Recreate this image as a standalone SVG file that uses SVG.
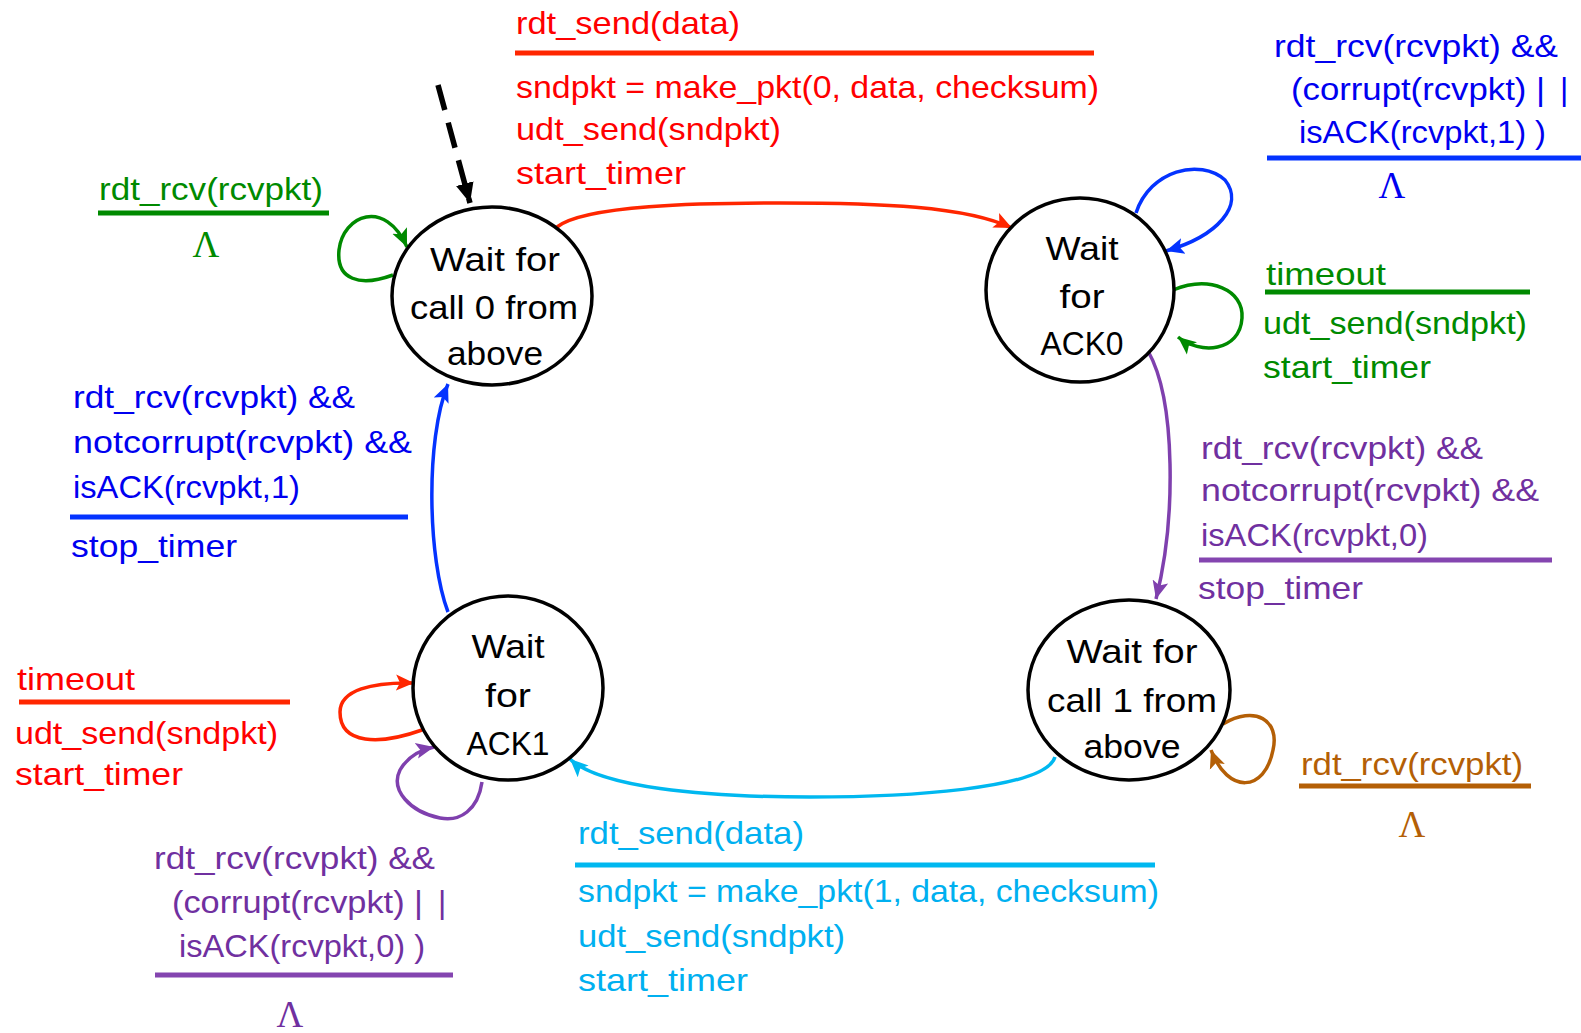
<svg xmlns="http://www.w3.org/2000/svg" width="1581" height="1033" viewBox="0 0 1581 1033">
  <style>
    .lbl { font-family: "Liberation Sans", Arial, sans-serif; font-size: 32px; }
    .st  { font-family: "Liberation Sans", Arial, sans-serif; font-size: 34px; fill: #000; text-anchor: middle; }
    .lam { font-family: "Liberation Serif", "Times New Roman", serif; font-size: 37px; text-anchor: middle; }
    .state { fill: #fff; stroke: #000; stroke-width: 3.5; }
    .edge { fill: none; stroke-width: 3.5; }
    .bar { stroke-width: 5; }
    .red { fill: #FF0000; } .green { fill: #008A00; } .blue { fill: #0000F0; }
    .purple { fill: #7030A0; } .cyan { fill: #00B0F0; } .brown { fill: #B45F06; }
  </style>
  <defs>
    <marker id="ah-black" markerUnits="userSpaceOnUse" markerWidth="22" markerHeight="22" viewBox="0 0 22 22" refX="20" refY="11" orient="auto"><path d="M0,2 L20,11 L0,20 Z" fill="#000"/></marker>
    <marker id="ah-red" markerUnits="userSpaceOnUse" markerWidth="20" markerHeight="20" viewBox="0 0 20 20" refX="18" refY="10" orient="auto"><path d="M0,2 L18,10 L0,18 L4,10 Z" fill="#FF2600"/></marker>
    <marker id="ah-green" markerUnits="userSpaceOnUse" markerWidth="20" markerHeight="20" viewBox="0 0 20 20" refX="18" refY="10" orient="auto"><path d="M0,2 L18,10 L0,18 L4,10 Z" fill="#008A00"/></marker>
    <marker id="ah-blue" markerUnits="userSpaceOnUse" markerWidth="20" markerHeight="20" viewBox="0 0 20 20" refX="18" refY="10" orient="auto"><path d="M0,2 L18,10 L0,18 L4,10 Z" fill="#0433FF"/></marker>
    <marker id="ah-purple" markerUnits="userSpaceOnUse" markerWidth="20" markerHeight="20" viewBox="0 0 20 20" refX="18" refY="10" orient="auto"><path d="M0,2 L18,10 L0,18 L4,10 Z" fill="#7F40AE"/></marker>
    <marker id="ah-cyan" markerUnits="userSpaceOnUse" markerWidth="20" markerHeight="20" viewBox="0 0 20 20" refX="18" refY="10" orient="auto"><path d="M0,2 L18,10 L0,18 L4,10 Z" fill="#00B8F0"/></marker>
    <marker id="ah-brown" markerUnits="userSpaceOnUse" markerWidth="20" markerHeight="20" viewBox="0 0 20 20" refX="18" refY="10" orient="auto"><path d="M0,2 L18,10 L0,18 L4,10 Z" fill="#B45F06"/></marker>
  </defs>

  <!-- transitions -->
  <g id="connectors">
    <path d="M438,85 L470,203" fill="none" stroke="#000" stroke-width="5.5" stroke-dasharray="26 13" marker-end="url(#ah-black)"/>
    <path class="edge" stroke="#FF2600" d="M557,227 C585,205 700,203 780,203 C880,203 965,206 1012,228" marker-end="url(#ah-red)"/>
    <path class="edge" stroke="#008A00" d="M393,275 C360,287 336,280 339,250 C343,215 385,198 407,247" marker-end="url(#ah-green)"/>
    <path class="edge" stroke="#0433FF" d="M448,612 C428,560 425,440 448,384" marker-end="url(#ah-blue)"/>
    <path class="edge" stroke="#0433FF" d="M1136,213 C1150,170 1200,158 1225,180 C1245,205 1218,236 1166,251" marker-end="url(#ah-blue)"/>
    <path class="edge" stroke="#008A00" d="M1173,290 C1210,275 1244,290 1242,318 C1240,352 1200,355 1178,337" marker-end="url(#ah-green)"/>
    <path class="edge" stroke="#7F40AE" d="M1148,351 C1176,400 1176,520 1156,599" marker-end="url(#ah-purple)"/>
    <path class="edge" stroke="#B45F06" d="M1223,724 C1255,705 1280,720 1273,750 C1265,792 1228,795 1211,750" marker-end="url(#ah-brown)"/>
    <path class="edge" stroke="#00B8F0" d="M1055,757 C1045,790 900,797 810,797 C700,797 600,787 570,759" marker-end="url(#ah-cyan)"/>
    <path class="edge" stroke="#FF2600" d="M422,730 C380,745 340,745 340,712 C340,690 372,682 414,683" marker-end="url(#ah-red)"/>
    <path class="edge" stroke="#7F40AE" d="M482,782 C478,810 460,822 440,818 C410,812 390,790 400,770 C408,756 420,750 434,747" marker-end="url(#ah-purple)"/>
  </g>

  <!-- states -->
  <g id="wait-call0">
    <ellipse class="state" cx="492" cy="296" rx="100" ry="89"/>
    <text class="st" x="495" y="271" textLength="130" lengthAdjust="spacingAndGlyphs">Wait for</text>
    <text class="st" x="494" y="319" textLength="168" lengthAdjust="spacingAndGlyphs">call 0 from</text>
    <text class="st" x="495" y="365" textLength="96" lengthAdjust="spacingAndGlyphs">above</text>
  </g>
  <g id="wait-ack0">
    <ellipse class="state" cx="1080" cy="290" rx="94" ry="92"/>
    <text class="st" x="1082" y="260" textLength="73" lengthAdjust="spacingAndGlyphs">Wait</text>
    <text class="st" x="1082" y="308" textLength="45" lengthAdjust="spacingAndGlyphs">for</text>
    <text class="st" x="1082" y="355" textLength="83" lengthAdjust="spacingAndGlyphs">ACK0</text>
  </g>
  <g id="wait-ack1">
    <ellipse class="state" cx="508" cy="688" rx="95" ry="92"/>
    <text class="st" x="508" y="658" textLength="73" lengthAdjust="spacingAndGlyphs">Wait</text>
    <text class="st" x="508" y="707" textLength="46" lengthAdjust="spacingAndGlyphs">for</text>
    <text class="st" x="508" y="755" textLength="83" lengthAdjust="spacingAndGlyphs">ACK1</text>
  </g>
  <g id="wait-call1">
    <ellipse class="state" cx="1129" cy="690" rx="101" ry="90"/>
    <text class="st" x="1132" y="663" textLength="131" lengthAdjust="spacingAndGlyphs">Wait for</text>
    <text class="st" x="1132" y="712" textLength="170" lengthAdjust="spacingAndGlyphs">call 1 from</text>
    <text class="st" x="1132" y="758" textLength="97" lengthAdjust="spacingAndGlyphs">above</text>
  </g>

  <!-- transition labels -->
  <g id="label-send0">
    <text class="lbl red" x="516" y="34" textLength="224" lengthAdjust="spacingAndGlyphs">rdt_send(data)</text>
    <line class="bar" x1="515" y1="53" x2="1094" y2="53" stroke="#FF2600"/>
    <text class="lbl red" x="516" y="98" textLength="583" lengthAdjust="spacingAndGlyphs">sndpkt = make_pkt(0, data, checksum)</text>
    <text class="lbl red" x="516" y="140" textLength="265" lengthAdjust="spacingAndGlyphs">udt_send(sndpkt)</text>
    <text class="lbl red" x="516" y="184" textLength="170" lengthAdjust="spacingAndGlyphs">start_timer</text>
  </g>
  <g id="label-call0-loop">
    <text class="lbl green" x="99" y="200" textLength="224" lengthAdjust="spacingAndGlyphs">rdt_rcv(rcvpkt)</text>
    <line class="bar" x1="98" y1="213" x2="329" y2="213" stroke="#008A00"/>
    <text class="lam green" x="206" y="257">Λ</text>
  </g>
  <g id="label-ack1-ok">
    <text class="lbl blue" x="73" y="408" textLength="282" lengthAdjust="spacingAndGlyphs">rdt_rcv(rcvpkt) &amp;&amp;</text>
    <text class="lbl blue" x="73" y="453" textLength="339" lengthAdjust="spacingAndGlyphs">notcorrupt(rcvpkt) &amp;&amp;</text>
    <text class="lbl blue" x="73" y="498" textLength="227" lengthAdjust="spacingAndGlyphs">isACK(rcvpkt,1)</text>
    <line class="bar" x1="70" y1="517" x2="408" y2="517" stroke="#0433FF"/>
    <text class="lbl blue" x="71" y="557" textLength="166" lengthAdjust="spacingAndGlyphs">stop_timer</text>
  </g>
  <g id="label-ack0-bad">
    <text class="lbl blue" x="1274" y="57" textLength="284" lengthAdjust="spacingAndGlyphs">rdt_rcv(rcvpkt) &amp;&amp;</text>
    <text class="lbl blue" x="1291" y="100"><tspan textLength="254" lengthAdjust="spacingAndGlyphs">(corrupt(rcvpkt) |</tspan><tspan dx="15">|</tspan></text>
    <text class="lbl blue" x="1299" y="143" textLength="247" lengthAdjust="spacingAndGlyphs">isACK(rcvpkt,1) )</text>
    <line class="bar" x1="1267" y1="158" x2="1581" y2="158" stroke="#0433FF"/>
    <text class="lam blue" x="1392" y="198">Λ</text>
  </g>
  <g id="label-ack0-timeout">
    <text class="lbl green" x="1266" y="285" textLength="120" lengthAdjust="spacingAndGlyphs">timeout</text>
    <line class="bar" x1="1265" y1="292" x2="1530" y2="292" stroke="#008A00"/>
    <text class="lbl green" x="1263" y="334" textLength="264" lengthAdjust="spacingAndGlyphs">udt_send(sndpkt)</text>
    <text class="lbl green" x="1263" y="378" textLength="168" lengthAdjust="spacingAndGlyphs">start_timer</text>
  </g>
  <g id="label-ack0-ok">
    <text class="lbl purple" x="1201" y="459" textLength="282" lengthAdjust="spacingAndGlyphs">rdt_rcv(rcvpkt) &amp;&amp;</text>
    <text class="lbl purple" x="1201" y="501" textLength="338" lengthAdjust="spacingAndGlyphs">notcorrupt(rcvpkt) &amp;&amp;</text>
    <text class="lbl purple" x="1201" y="546" textLength="227" lengthAdjust="spacingAndGlyphs">isACK(rcvpkt,0)</text>
    <line class="bar" x1="1199" y1="560" x2="1552" y2="560" stroke="#8445B0"/>
    <text class="lbl purple" x="1198" y="599" textLength="165" lengthAdjust="spacingAndGlyphs">stop_timer</text>
  </g>
  <g id="label-call1-loop">
    <text class="lbl brown" x="1301" y="775" textLength="222" lengthAdjust="spacingAndGlyphs">rdt_rcv(rcvpkt)</text>
    <line class="bar" x1="1299" y1="786" x2="1531" y2="786" stroke="#B45F06"/>
    <text class="lam brown" x="1412" y="837">Λ</text>
  </g>
  <g id="label-send1">
    <text class="lbl cyan" x="578" y="844" textLength="226" lengthAdjust="spacingAndGlyphs">rdt_send(data)</text>
    <line class="bar" x1="575" y1="865" x2="1155" y2="865" stroke="#00B8F0"/>
    <text class="lbl cyan" x="578" y="902" textLength="581" lengthAdjust="spacingAndGlyphs">sndpkt = make_pkt(1, data, checksum)</text>
    <text class="lbl cyan" x="578" y="947" textLength="267" lengthAdjust="spacingAndGlyphs">udt_send(sndpkt)</text>
    <text class="lbl cyan" x="578" y="991" textLength="170" lengthAdjust="spacingAndGlyphs">start_timer</text>
  </g>
  <g id="label-ack1-timeout">
    <text class="lbl red" x="17" y="690" textLength="118" lengthAdjust="spacingAndGlyphs">timeout</text>
    <line class="bar" x1="19" y1="702" x2="290" y2="702" stroke="#FF2600"/>
    <text class="lbl red" x="15" y="744" textLength="263" lengthAdjust="spacingAndGlyphs">udt_send(sndpkt)</text>
    <text class="lbl red" x="15" y="785" textLength="168" lengthAdjust="spacingAndGlyphs">start_timer</text>
  </g>
  <g id="label-ack1-bad">
    <text class="lbl purple" x="154" y="869" textLength="281" lengthAdjust="spacingAndGlyphs">rdt_rcv(rcvpkt) &amp;&amp;</text>
    <text class="lbl purple" x="172" y="913"><tspan textLength="251" lengthAdjust="spacingAndGlyphs">(corrupt(rcvpkt) |</tspan><tspan dx="15">|</tspan></text>
    <text class="lbl purple" x="179" y="957" textLength="246" lengthAdjust="spacingAndGlyphs">isACK(rcvpkt,0) )</text>
    <line class="bar" x1="155" y1="975" x2="453" y2="975" stroke="#8445B0"/>
    <text class="lam purple" x="290" y="1027">Λ</text>
  </g>
</svg>
